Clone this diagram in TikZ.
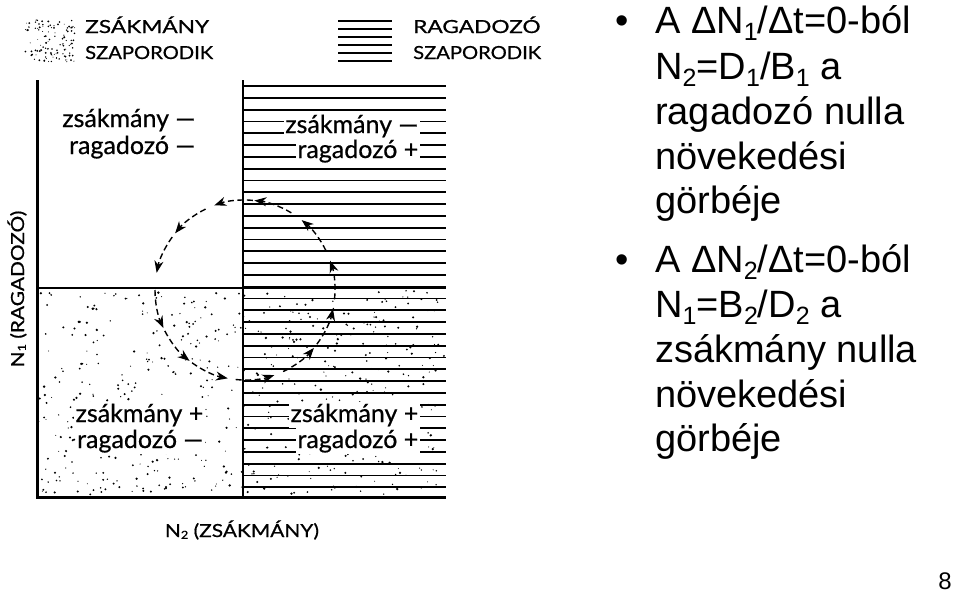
\documentclass[tikz,border=0pt]{standalone}
\usepackage{fontspec}
\setmainfont{Liberation Sans}
\newfontfamily\gill[FakeBold=0.6]{Lato}
\usetikzlibrary{arrows.meta}
\newcommand\sbs[1]{\raisebox{-0.2em}{\fontsize{25}{25}\selectfont #1}}
\newcommand\axsub[1]{\raisebox{-0.1em}{\fontsize{11}{11}\selectfont #1}}
\newcommand\wide[1]{\scalebox{1.26}[1]{#1}}
\newcommand\widesz[1]{\scalebox{1.12}[1]{#1}}
\newcommand\axw[1]{\scalebox{1.16}[1]{#1}}
\begin{document}
\begin{tikzpicture}[x=1pt,y=-1pt,
  border/.style={line width=3},
  divider/.style={line width=2.5},
  hatch/.style={line width=1.8},
  cyc/.style={line width=1.4, dash pattern=on 6 off 3.5, -{Stealth[length=12,width=9]}},
  qlabel/.style={font=\gill\fontsize{25}{25}\selectfont, fill=white, inner sep=1.5, anchor=base east},
  legend/.style={font=\gill\fontsize{18}{18}\selectfont, anchor=base west, inner sep=0},
  axlabel/.style={font=\gill\fontsize{18}{18}\selectfont, inner sep=0},
  bigtext/.style={font=\fontsize{38}{38}\selectfont, anchor=base west, inner sep=0},
  bullet/.style={font=\fontsize{38}{38}\selectfont, anchor=base west, inner sep=0}
]
\useasboundingbox[fill=white] (0,0) rectangle (959,597);

% stipple (zsákmány szaporodik)
\pgfmathsetseed{12}
\foreach \i in {1,...,600}{\fill ({37+409*rnd},{290+205*rnd}) circle ({0.5+0.8*rnd});}
\foreach \i in {1,...,110}{\fill ({25+50*rnd},{20+42*rnd}) circle ({0.4+0.7*rnd});}

% hatch (ragadozó szaporodik)
\foreach \y in {86,97.8,...,494} \draw[hatch] (243,\y) -- (446,\y);
\foreach \y in {21,29,37,45,53,61} \draw[hatch] (338,\y) -- (392,\y);

% axes and dividers
\draw[border] (37,80) -- (37,497) -- (446,497);
\draw[divider] (243,80) -- (243,497);
\draw[divider] (37,288) -- (446,288);

% cycle
\foreach \t in {276,250,219,191,155,128,101,71,40,12,341,309}
  \draw[cyc] ([shift={(\t+25:90)}]245,290) arc[start angle=\t+25, end angle=\t, radius=90];

% quadrant labels
\node[qlabel] (ul1) at (197,127) {zsákmány —};
\node[qlabel] (ul2) at (197,154) {ragadozó —};
\node[qlabel] (ur1) at (420,133) {zsákmány —};
\node[qlabel] (ur2) at (420,158) {ragadozó +};
\node[qlabel] (ll1) at (205,422) {zsákmány +};
\node[qlabel] (ll2) at (205,448) {ragadozó —};
\node[qlabel] (lr1) at (420,422) {zsákmány +};
\node[qlabel] (lr2) at (420,448) {ragadozó +};

% legend
\node[legend] (lg1) at (85,33) {\wide{ZSÁKMÁNY}};
\node[legend] (lg2) at (85,59) {\widesz{SZAPORODIK}};
\node[legend] (lg3) at (413,33) {\wide{RAGADOZÓ}};
\node[legend] (lg4) at (413,59) {\widesz{SZAPORODIK}};

% axis labels
\node[axlabel, anchor=base] (xlab) at (242,537) {\axw{N\axsub{2} (ZSÁKMÁNY)}};
\node[axlabel, anchor=base, rotate=90] (ylab) at (24,289) {\axw{N\axsub{1} (RAGADOZÓ)}};

% right text
\node[bullet] (b1) at (615,33) {•};
\node[bigtext] (t1) at (655,33) {A ΔN\sbs{1}/Δt=0-ból};
\node[bigtext] (t2) at (655,79) {N\sbs{2}=D\sbs{1}/B\sbs{1} a};
\node[bigtext] (t3) at (655,124) {ragadozó nulla};
\node[bigtext] (t4) at (655,169) {növekedési};
\node[bigtext] (t5) at (655,213) {görbéje};
\node[bullet] (b2) at (615,272) {•};
\node[bigtext] (s1) at (655,272) {A ΔN\sbs{2}/Δt=0-ból};
\node[bigtext] (s2) at (655,317) {N\sbs{1}=B\sbs{2}/D\sbs{2} a};
\node[bigtext] (s3) at (655,362) {zsákmány nulla};
\node[bigtext] (s4) at (655,407) {növekedési};
\node[bigtext] (s5) at (655,451) {görbéje};

\node[font=\fontsize{24}{24}\selectfont, anchor=base east, inner sep=0] (pg) at (952,589) {8};
\end{tikzpicture}
\end{document}
